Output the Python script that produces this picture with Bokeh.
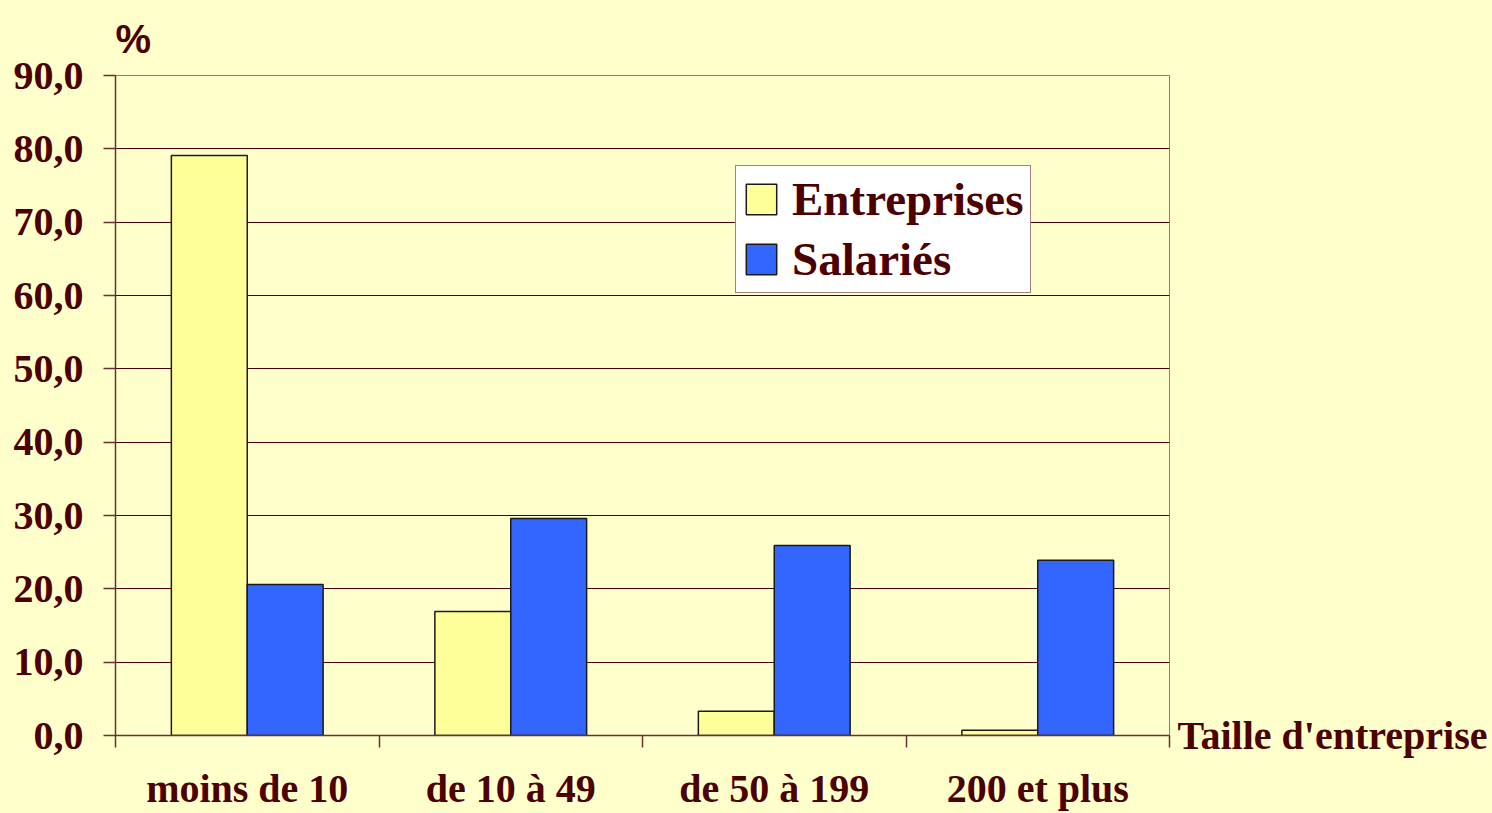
from bokeh.plotting import figure
from bokeh.models import (Range1d, FixedTicker, Legend, LegendItem, LinearAxis, ColumnDataSource)
from bokeh.transform import dodge
from bokeh.embed import file_html
from bokeh.resources import INLINE

# ---- data ----
categories = ["moins de 10", "de 10 à 49", "de 50 à 199", "200 et plus"]
entreprises = [79.1, 16.9, 3.3, 0.7]
salaries = [20.6, 29.6, 25.9, 23.9]
series_names = ["Entreprises", "Salariés"]
y_ticks = [0, 10, 20, 30, 40, 50, 60, 70, 80, 90]
y_tick_labels = ["0,0", "10,0", "20,0", "30,0", "40,0", "50,0", "60,0", "70,0", "80,0", "90,0"]
y_unit = "%"
x_title = "Taille d'entreprise"

# ---- style ----
BG = "#FFFFCC"
TXT = "#4C0000"
AXC = "#663333"
FONT = "Liberation Serif"
C_ENT = "#FFFF99"
C_SAL = "#3366FF"

n = len(categories)
centers = [i + 0.5 for i in range(n)]
src = ColumnDataSource(dict(xc=centers, cat=categories, ent=entreprises, sal=salaries))

p = figure(x_range=Range1d(0, n), y_range=Range1d(0, 90),
           width=1490, height=813, output_backend="svg", toolbar_location=None,
           min_border_left=115, min_border_right=320,
           min_border_top=75, min_border_bottom=76)
p.background_fill_color = BG
p.border_fill_color = BG
p.outline_line_color = "#808080"
p.outline_line_width = 1

# bars
r1 = p.vbar(x=dodge("xc", -0.144), top="ent", width=0.288, source=src,
            fill_color=C_ENT, line_color="#1a1a1a", line_width=1.5)
r2 = p.vbar(x=dodge("xc", 0.144), top="sal", width=0.288, source=src,
            fill_color=C_SAL, line_color="#1a1a1a", line_width=1.5)

# grid
p.xgrid.visible = False
p.ygrid.ticker = FixedTicker(ticks=y_ticks[1:-1])
p.ygrid.grid_line_color = TXT
p.ygrid.grid_line_width = 1

# y axis
ya = p.yaxis[0]
ya.ticker = FixedTicker(ticks=y_ticks)
ya.major_label_overrides = {t: l for t, l in zip(y_ticks, y_tick_labels)}
ya.axis_line_color = AXC
ya.axis_line_width = 1.5
ya.major_tick_line_color = AXC
ya.major_tick_line_width = 1.5
ya.major_tick_out = 12
ya.major_tick_in = 0
ya.minor_tick_line_color = None
ya.major_label_standoff = 20
ya.major_label_text_font = FONT
ya.major_label_text_font_style = "bold"
ya.major_label_text_font_size = "40px"
ya.major_label_text_color = TXT

# x axis: labels at category centers, tick marks at category boundaries
xa = p.xaxis[0]
xa.ticker = FixedTicker(ticks=centers, minor_ticks=list(range(n + 1)))
xa.major_label_overrides = {c: lab for c, lab in zip(centers, categories)}
xa.axis_line_color = AXC
xa.axis_line_width = 1.5
xa.major_tick_out = 0
xa.major_tick_in = 0
xa.major_tick_line_color = None
xa.minor_tick_line_color = AXC
xa.minor_tick_line_width = 1.5
xa.minor_tick_out = 12
xa.minor_tick_in = 0
xa.major_label_standoff = 18
xa.major_label_text_font = FONT
xa.major_label_text_font_style = "bold"
xa.major_label_text_font_size = "40px"
xa.major_label_text_color = TXT

# x-axis title at the right end of the axis (right-side axis with a single label at y=0)
ra = LinearAxis(ticker=FixedTicker(ticks=[y_ticks[0]]),
                major_label_overrides={y_ticks[0]: x_title})
ra.axis_line_color = None
ra.major_tick_line_color = None
ra.minor_tick_line_color = None
ra.major_tick_out = 0
ra.major_tick_in = 0
ra.major_label_standoff = 8
ra.major_label_text_font = FONT
ra.major_label_text_font_style = "bold"
ra.major_label_text_font_size = "40px"
ra.major_label_text_color = TXT
p.add_layout(ra, "right")

# title "%"
p.title.text = y_unit
p.title.align = "left"
p.title.text_font = "Liberation Sans"
p.title.text_font_style = "bold"
p.title.text_font_size = "40px"
p.title.text_color = TXT
p.title.standoff = 29

# legend
legend = Legend(items=[LegendItem(label=series_names[0], renderers=[r1]),
                       LegendItem(label=series_names[1], renderers=[r2])],
                location=(620, 442))
legend.label_text_font = FONT
legend.label_text_font_style = "bold"
legend.label_text_font_size = "47px"
legend.label_text_color = TXT
legend.glyph_width = 38
legend.glyph_height = 38
legend.label_standoff = 12
legend.padding = 6
legend.spacing = 6
legend.margin = 0
legend.border_line_color = TXT
legend.border_line_width = 1
legend.background_fill_color = "white"
legend.background_fill_alpha = 1
p.add_layout(legend, "center")

html = file_html(p, INLINE)
html = html.replace("</head>", "<style>body{background-color:#FFFFCC;}</style></head>", 1)
open("out.html", "w").write(html)
